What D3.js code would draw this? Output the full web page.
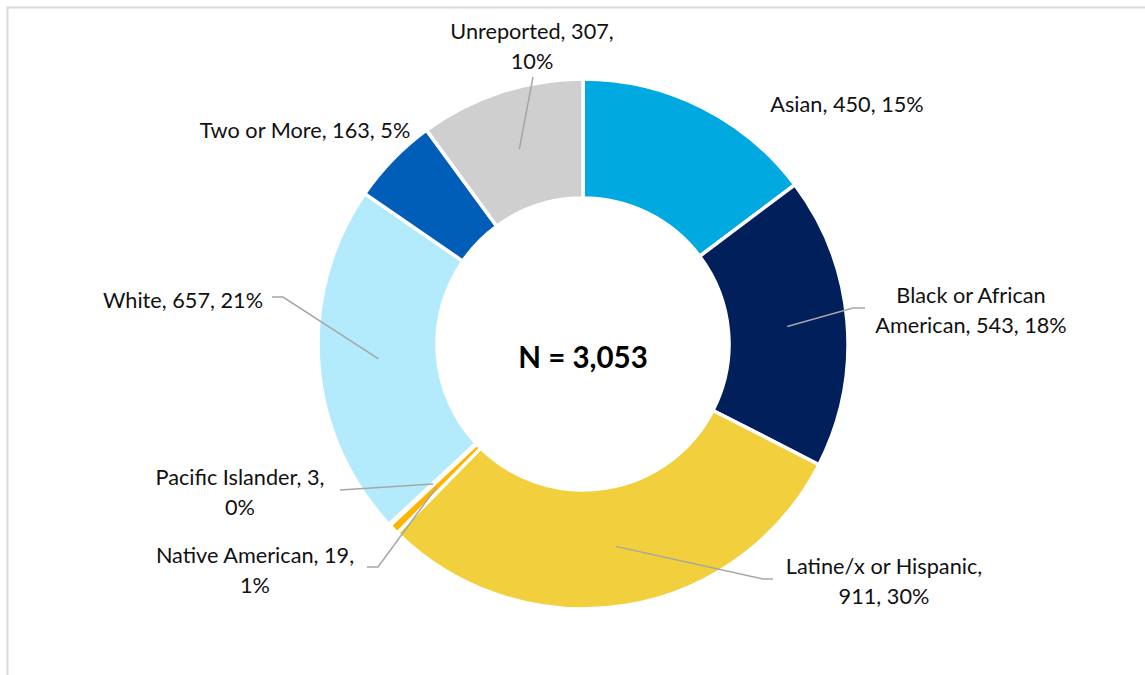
<!DOCTYPE html>
<html>
<head>
<meta charset="utf-8">
<script src="https://cdn.jsdelivr.net/npm/d3@7"></script>
<style>
  html, body { margin: 0; padding: 0; background: #fff; }
  svg { display: block; }
</style>
</head>
<body>
<div id="chart"></div>
<script>
// data, clockwise from 12 o'clock
const categories = ["Asian", "Black or African American", "Latine/x or Hispanic", "Native American",
  "Pacific Islander", "White", "Two or More", "Unreported"];
const counts = [450, 543, 911, 19, 3, 657, 163, 307];
const percents = ["15%", "18%", "30%", "1%", "0%", "21%", "5%", "10%"];
const sliceColors = ["#00a9e0", "#001f5b", "#f2cf3c", "#ffb500", "#9bd3e6", "#b3ebfd", "#005eb8", "#d0cfd0"];
const totalLabel = "N = 3,053";

// label text lines, in the same order as the categories
const labelLines = [
  [categories[0] + ", " + counts[0] + ", " + percents[0]],
  ["Black or African", "American, " + counts[1] + ", " + percents[1]],
  [categories[2] + ",", d3.format(",")(counts[2]) + ", " + percents[2]],
  [categories[3] + ", " + counts[3] + ",", percents[3]],
  [categories[4] + ", " + counts[4] + ",", percents[4]],
  [categories[5] + ", " + counts[5] + ", " + percents[5]],
  [categories[6] + ", " + counts[6] + ", " + percents[6]],
  [categories[7] + ", " + counts[7] + ",", percents[7]]
];

// layout: label centre (first line) and leader elbow/end points, null = no leader
const labelPos = [
  { x: 847, y: 104, leader: null },
  { x: 971, y: 295, leader: [[853, 308], [865, 308]] },
  { x: 884, y: 566, leader: [[763, 579], [773, 579]] },
  { x: 255, y: 555, leader: [[378, 567], [367, 567]] },
  { x: 240, y: 477, leader: [[340, 490]] },
  { x: 183, y: 300, leader: [[283, 297], [272, 297]] },
  { x: 305, y: 130, leader: null },
  { x: 532, y: 31, leader: [[533, 77]] }
];

let width = 1145, height = 675;
let center = { x: 583, y: 344 };
let lineHeight = 30;

let svg = d3.select("#chart").selectAll("svg").data([0]).join("svg")
  .attr("width", width)
  .attr("height", height);

// cropped chart-area border
svg.append("rect")
  .attr("x", 7.5).attr("y", 7.5)
  .attr("width", width + 20).attr("height", height + 20)
  .attr("fill", "none")
  .attr("stroke", "#d9d9d9")
  .attr("stroke-width", 2);

let rows = categories.map((c, i) => ({ name: c, value: counts[i], i: i }));

let pie = d3.pie().sort(null).value(d => d.value);
let arcs = pie(rows);

let arcGen = d3.arc().innerRadius(146).outerRadius(265);
let midArc = d3.arc().innerRadius(205).outerRadius(205);

let plotg = svg.append("g").attr("transform", `translate(${center.x},${center.y})`);

plotg.selectAll(".slice")
  .data(arcs)
  .join("path")
  .attr("class", "slice")
  .attr("d", arcGen)
  .attr("fill", d => sliceColors[d.data.i])
  .attr("stroke", "#fff")
  .attr("stroke-width", 3.5)
  .attr("stroke-linejoin", "miter");

// leader lines from slice centroid out to the label
let lineGen = d3.line();
svg.selectAll(".leader")
  .data(arcs.filter(d => labelPos[d.data.i].leader))
  .join("path")
  .attr("class", "leader")
  .attr("d", d => {
    let c = midArc.centroid(d);
    let pts = [[c[0] + center.x, c[1] + center.y]].concat(labelPos[d.data.i].leader);
    return lineGen(pts);
  })
  .attr("fill", "none")
  .attr("stroke", "#a6a6a6")
  .attr("stroke-width", 1.5);

let labels = svg.selectAll(".label")
  .data(rows)
  .join("text")
  .attr("class", "label")
  .attr("text-anchor", "middle")
  .attr("font-family", "Lato, 'Open Sans', sans-serif")
  .attr("font-size", 21.7)
  .attr("fill", "#111");

labels.selectAll("tspan")
  .data(d => labelLines[d.i].map((t, k) => ({ t: t, k: k, i: d.i })))
  .join("tspan")
  .attr("x", d => labelPos[d.i].x)
  .attr("y", d => labelPos[d.i].y + d.k * lineHeight)
  .attr("dy", "0.35em")
  .text(d => d.t);

svg.append("text")
  .attr("x", center.x)
  .attr("y", 358)
  .attr("dy", "0.35em")
  .attr("text-anchor", "middle")
  .attr("font-family", "Lato, 'Open Sans', sans-serif")
  .attr("font-weight", "bold")
  .attr("font-size", 29.5)
  .attr("fill", "#000")
  .text(totalLabel);
</script>
</body>
</html>
